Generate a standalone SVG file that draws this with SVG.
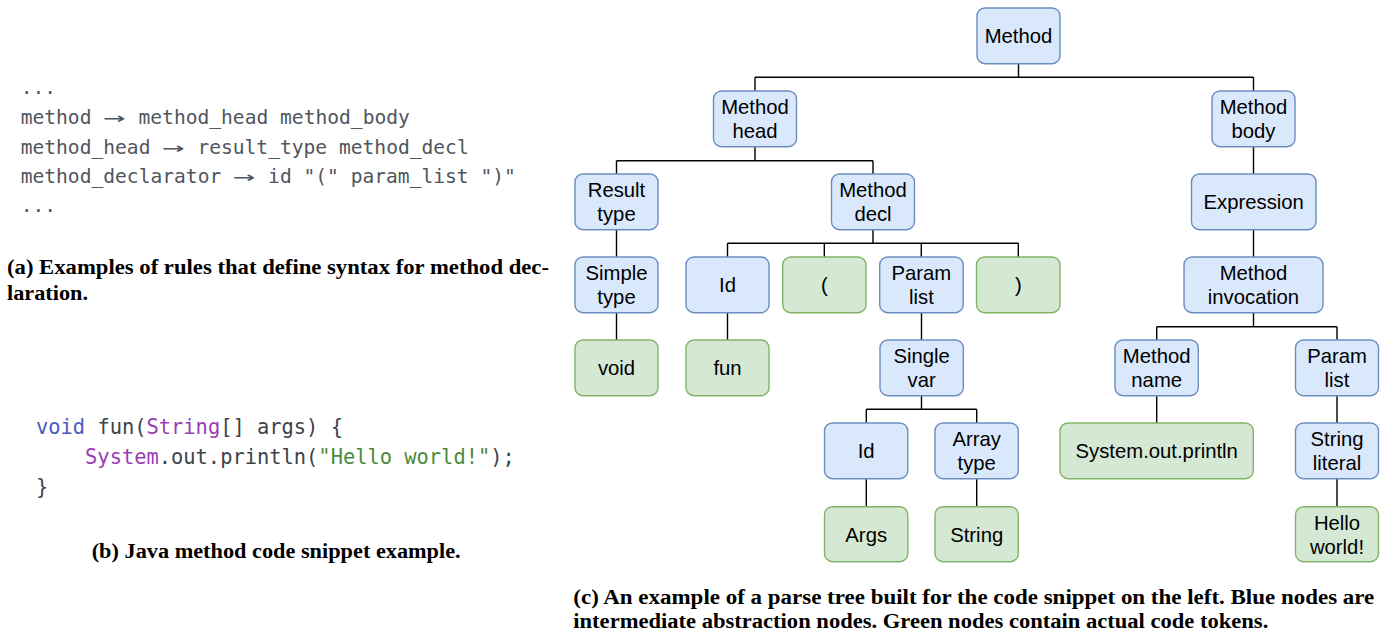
<svg xmlns="http://www.w3.org/2000/svg" width="1396" height="632" viewBox="0 0 1396 632">
<style>
.b rect{fill:#dae8fc;stroke:#6c8ebf;stroke-width:1.4}
.g rect{fill:#d5e8d4;stroke:#82b366;stroke-width:1.4}
.b text,.g text{font-family:"Liberation Sans",Arial,sans-serif;font-size:20.3px;text-anchor:middle;fill:#000}
#connectors path{fill:none;stroke:#000;stroke-width:1.4}
.ca{font-family:"DejaVu Sans Mono",monospace;font-size:19.6px;fill:#50565e}
.cb{font-family:"DejaVu Sans Mono",monospace;font-size:20.4px;fill:#3d434b}
.kw{fill:#4a5bc0}.ty{fill:#9a3cb3}.st{fill:#4b8a3c}
.cap{font-family:"Liberation Serif","Times New Roman",serif;font-weight:bold;font-size:20.5px;fill:#000}
</style>
<rect width="1396" height="632" fill="#fff"/>

<g id="rules">
<text class="ca" x="20.7" y="94">...</text>
<text class="ca" x="20.7" y="124">method</text>
<text class="ca" x="103.5" y="124" textLength="22" lengthAdjust="spacingAndGlyphs">→</text>
<text class="ca" x="138.5" y="124">method_head method_body</text>
<text class="ca" x="20.7" y="153.5">method_head</text>
<text class="ca" x="162.4" y="153.5" textLength="22" lengthAdjust="spacingAndGlyphs">→</text>
<text class="ca" x="197.4" y="153.5">result_type method_decl</text>
<text class="ca" x="20.7" y="183">method_declarator</text>
<text class="ca" x="233.2" y="183" textLength="22" lengthAdjust="spacingAndGlyphs">→</text>
<text class="ca" x="268.1" y="183">id "(" param_list ")"</text>
<text class="ca" x="20.7" y="212">...</text>
</g>
<text class="cap" x="7" y="274" textLength="542" lengthAdjust="spacingAndGlyphs">(a) Examples of rules that define syntax for method dec-</text>
<text class="cap" x="7" y="300" textLength="81" lengthAdjust="spacingAndGlyphs">laration.</text>

<g id="code">
<text class="cb" x="36" y="433.5"><tspan class="kw">void</tspan> fun(<tspan class="ty">String</tspan>[] args) {</text>
<text class="cb" x="85.1" y="463.5"><tspan class="ty">System</tspan>.out.println(<tspan class="st">"Hello world!"</tspan>);</text>
<text class="cb" x="36" y="493.5">}</text>
</g>
<text class="cap" x="91.7" y="558" textLength="369" lengthAdjust="spacingAndGlyphs">(b) Java method code snippet example.</text>

<g id="connectors">
<path d="M1018.5 64V77.3M755 77.3H1253.5M755 77.3V91M1253.5 77.3V91"/>
<path d="M755 147V160.7M616.5 160.7H873M616.5 160.7V174M873 160.7V174"/>
<path d="M1253.5 147V174"/>
<path d="M616.5 230V257M616.5 313V340"/>
<path d="M873 230V243.3M727.5 243.3H1018.3M727.5 243.3V257M824.3 243.3V257M921.3 243.3V257M1018.3 243.3V257"/>
<path d="M1253.5 230V257"/>
<path d="M1253.5 313V326.7M1156.7 326.7H1337M1156.7 326.7V340M1337 326.7V340"/>
<path d="M727.5 313V340M921.5 313V340"/>
<path d="M921.5 396V409.3M866.3 409.3H976.7M866.3 409.3V423M976.7 409.3V423"/>
<path d="M866.3 479V506.5M976.7 479V506.5"/>
<path d="M1156.7 396V423M1337 396V423M1337 479V506.5"/>
</g>

<g id="n-method" class="b"><rect x="977" y="8" width="83" height="55.7" rx="8"/><text x="1018.5" y="43.2">Method</text></g>
<g id="n-method-head" class="b"><rect x="713.5" y="91" width="83" height="55.7" rx="8"/><text x="755" y="114.3">Method</text><text x="755" y="138.3">head</text></g>
<g id="n-method-body" class="b"><rect x="1212" y="91" width="83" height="55.7" rx="8"/><text x="1253.5" y="114.3">Method</text><text x="1253.5" y="138.3">body</text></g>
<g id="n-result-type" class="b"><rect x="575" y="174" width="83" height="55.7" rx="8"/><text x="616.5" y="197.3">Result</text><text x="616.5" y="221.3">type</text></g>
<g id="n-method-decl" class="b"><rect x="831.5" y="174" width="83" height="55.7" rx="8"/><text x="873" y="197.3">Method</text><text x="873" y="221.3">decl</text></g>
<g id="n-expression" class="b"><rect x="1191.5" y="174" width="124.5" height="55.7" rx="8"/><text x="1253.7" y="209.2">Expression</text></g>
<g id="n-simple-type" class="b"><rect x="575" y="257" width="83" height="55.7" rx="8"/><text x="616.5" y="280.3">Simple</text><text x="616.5" y="304.3">type</text></g>
<g id="n-id" class="b"><rect x="686" y="257" width="83" height="55.7" rx="8"/><text x="727.5" y="292.2">Id</text></g>
<g id="n-lparen" class="g"><rect x="782.7" y="257" width="83.3" height="55.7" rx="8"/><text x="824.3" y="292.2">(</text></g>
<g id="n-param-list" class="b"><rect x="879.7" y="257" width="83.5" height="55.7" rx="8"/><text x="921.4" y="280.3">Param</text><text x="921.4" y="304.3">list</text></g>
<g id="n-rparen" class="g"><rect x="976.5" y="257" width="83.5" height="55.7" rx="8"/><text x="1018.3" y="292.2">)</text></g>
<g id="n-method-invocation" class="b"><rect x="1184" y="257" width="139" height="55.7" rx="8"/><text x="1253.5" y="280.3">Method</text><text x="1253.5" y="304.3">invocation</text></g>
<g id="n-void" class="g"><rect x="575" y="340" width="83" height="55.7" rx="8"/><text x="616.5" y="375.2">void</text></g>
<g id="n-fun" class="g"><rect x="686" y="340" width="83" height="55.7" rx="8"/><text x="727.5" y="375.2">fun</text></g>
<g id="n-single-var" class="b"><rect x="880" y="340" width="83.3" height="55.7" rx="8"/><text x="921.6" y="363.3">Single</text><text x="921.6" y="387.3">var</text></g>
<g id="n-method-name" class="b"><rect x="1115" y="340" width="83.3" height="55.7" rx="8"/><text x="1156.7" y="363.3">Method</text><text x="1156.7" y="387.3">name</text></g>
<g id="n-param-list-2" class="b"><rect x="1295.5" y="340" width="83" height="55.7" rx="8"/><text x="1337" y="363.3">Param</text><text x="1337" y="387.3">list</text></g>
<g id="n-id-2" class="b"><rect x="824.5" y="423" width="83.3" height="55.7" rx="8"/><text x="866.2" y="458.2">Id</text></g>
<g id="n-array-type" class="b"><rect x="935" y="423" width="83.3" height="55.7" rx="8"/><text x="976.7" y="446.3">Array</text><text x="976.7" y="470.3">type</text></g>
<g id="n-println" class="g"><rect x="1060" y="423" width="193.3" height="55.7" rx="8"/><text x="1156.7" y="458.2">System.out.println</text></g>
<g id="n-string-literal" class="b"><rect x="1295.5" y="423" width="83" height="55.7" rx="8"/><text x="1337" y="446.3">String</text><text x="1337" y="470.3">literal</text></g>
<g id="n-args" class="g"><rect x="824.5" y="506.7" width="83.3" height="55" rx="8"/><text x="866.2" y="541.5">Args</text></g>
<g id="n-string" class="g"><rect x="935" y="506.7" width="83.3" height="55" rx="8"/><text x="976.7" y="541.5">String</text></g>
<g id="n-hello" class="g"><rect x="1295.5" y="506.7" width="83" height="55" rx="8"/><text x="1337" y="529.7">Hello</text><text x="1337" y="553.7">world!</text></g>

<text class="cap" x="573.3" y="603.5" textLength="801" lengthAdjust="spacingAndGlyphs">(c) An example of a parse tree built for the code snippet on the left. Blue nodes are</text>
<text class="cap" x="573.3" y="628" textLength="695" lengthAdjust="spacingAndGlyphs">intermediate abstraction nodes. Green nodes contain actual code tokens.</text>
</svg>
